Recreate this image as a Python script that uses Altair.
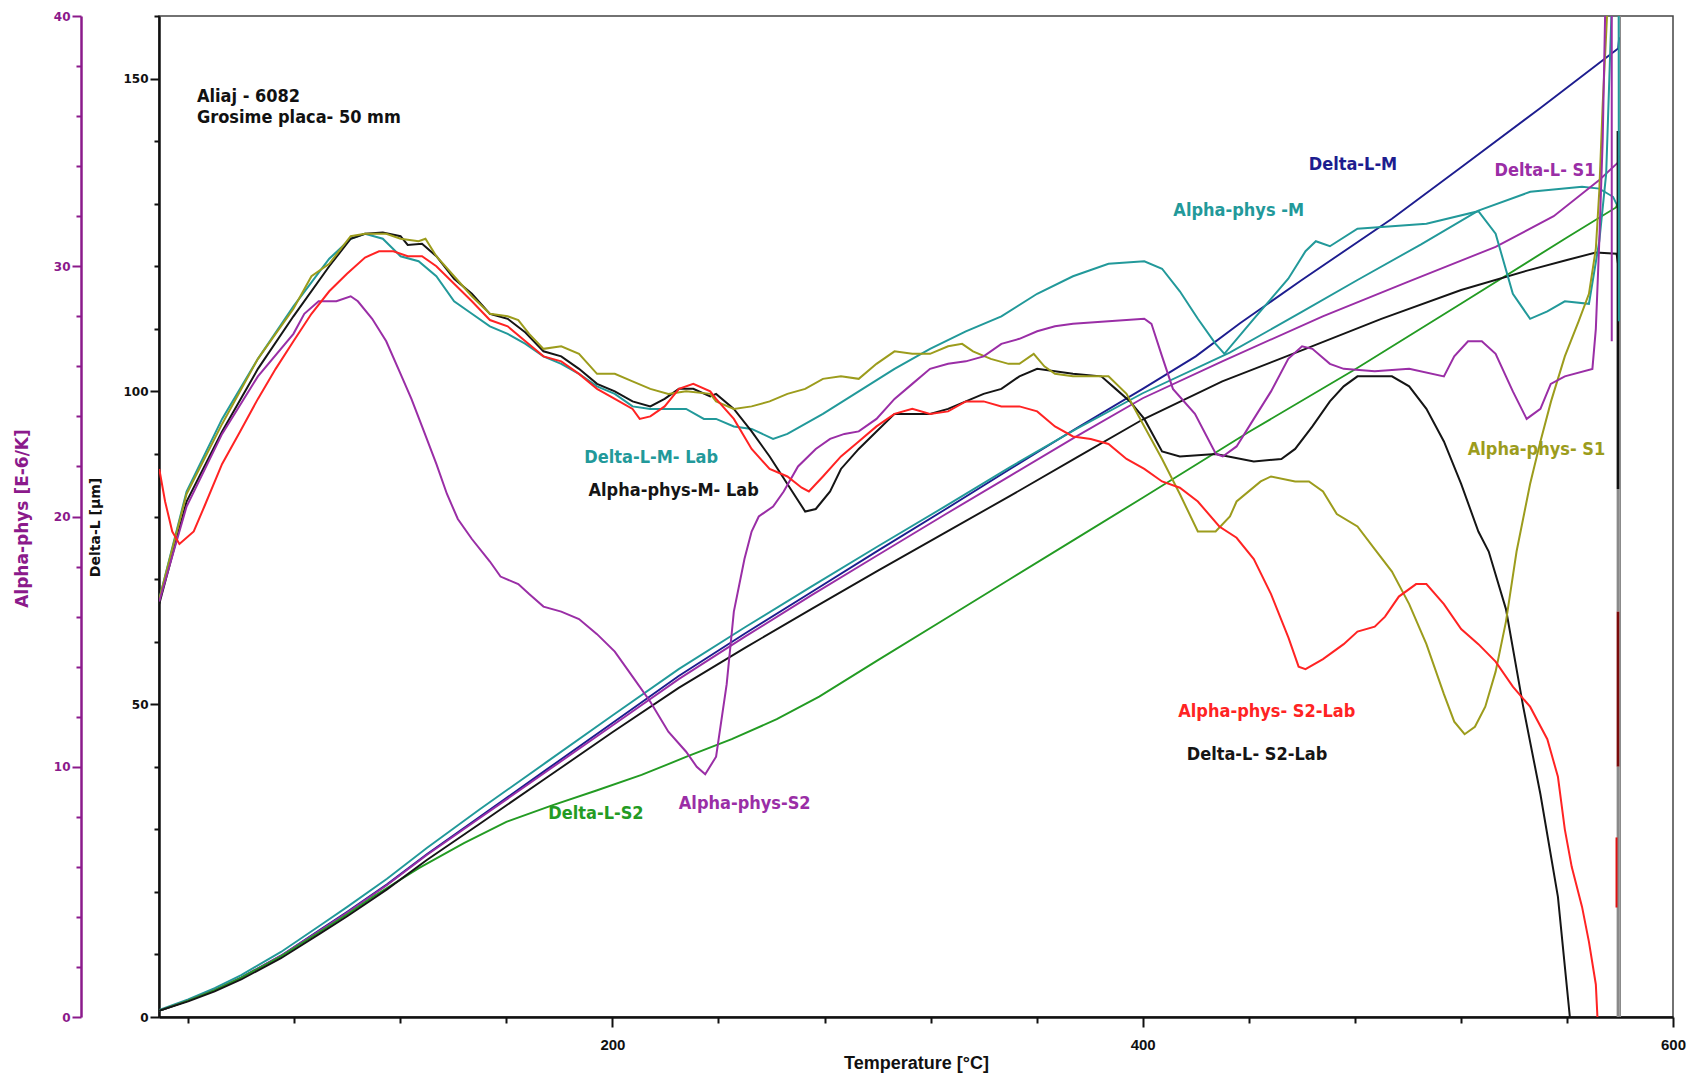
import altair as alt
import pandas as pd

# ---------------- Delta-L curves [µm] ----------------
T_BASE = [29, 40, 50, 60, 75, 90, 100, 115, 130, 150, 175, 200, 225, 250, 275, 300, 325, 350, 375, 400]

dl_m_T = T_BASE + [420, 436.7, 460, 494, 520, 550, 579.3, 579.7]
dl_m_D = [1.0, 2.6, 4.3, 6.3, 9.8, 14.0, 16.8, 21.2, 26.0, 32.0, 39.5, 47.0, 54.5, 61.3, 67.9, 74.5, 81.0, 87.6, 94.1, 100.4,
          105.6, 110.9, 117.8, 127.6, 135.8, 145.3, 154.8, 156.6]

dl_mlab_T = T_BASE + [432.8, 460, 481, 505, 526.6, 546.2, 565.7, 572.2, 577.4, 579.3]
dl_mlab_D = [1.1, 2.8, 4.6, 6.7, 10.4, 14.7, 17.6, 22.1, 27.0, 33.2, 40.7, 48.2, 55.6, 62.3, 68.8, 75.2, 81.5, 87.9, 94.0, 99.7,
             106.2, 112.7, 117.8, 123.5, 128.9, 131.9, 132.7, 132.4, 131.1, 129.4]

dl_s1_T = T_BASE + [430, 467.9, 500, 533.1, 555, 572.2, 579.3, 579.6]
dl_s1_D = [1.0, 2.6, 4.3, 6.3, 9.8, 13.9, 16.7, 21.1, 25.9, 31.8, 39.2, 46.6, 54.0, 60.8, 67.4, 73.8, 80.2, 86.5, 92.8, 98.9,
           104.8, 112.0, 117.5, 123.1, 128.0, 133.8, 136.6, 137.7]

dl_s2_T = [29, 40, 50, 60, 75, 90, 100, 110, 127, 144, 160, 177, 194, 211, 228, 245, 262, 278, 300, 325, 350, 375, 400,
           440, 480, 520, 560, 578.5, 579.6]
dl_s2_D = [1.0, 2.6, 4.3, 6.3, 9.7, 13.7, 16.4, 19.3, 23.8, 27.8, 31.2, 33.8, 36.2, 38.7, 41.6, 44.4, 47.6, 51.2, 57.0,
           63.5, 70.0, 76.5, 83.0, 93.5, 103.5, 114.0, 124.6, 129.4, 130.5]

dl_s2lab_T = T_BASE + [430, 461.4, 490, 520.1, 545, 560, 570.9, 578.7, 579.2]
dl_s2lab_D = [1.0, 2.5, 4.1, 6.0, 9.4, 13.4, 16.1, 20.4, 25.1, 30.9, 38.2, 45.5, 52.6, 59.0, 65.2, 71.3, 77.3, 83.3, 89.4, 95.5,
              101.6, 106.8, 111.6, 116.2, 119.3, 121.0, 122.2, 122.0, 120.5]

# ---------------- Alpha-phys curves [E-6/K] ----------------
ap_m_T = [29.1, 39.4, 52.8, 66.3, 79.7, 93.2, 101.3, 106.7, 113.4, 120.1, 126.9, 133.6, 140.3, 147.0, 153.8, 160.5,
          167.2, 174.0, 180.7, 187.4, 194.2, 200.9, 207.6, 214.3, 221.1, 227.8, 234.5, 239.1, 245.8, 252.5, 260.6,
          266.0, 279.4, 292.9, 306.4, 319.8, 333.3, 346.7, 360.2, 373.7, 387.1, 400.6, 407.3, 414.0, 420.8, 427.5,
          430.8, 441.9, 454.9, 461.4, 465.3, 470.6, 481.0, 494.0, 507.0, 526.6, 533.1, 539.6, 546.1, 552.6, 559.2,
          568.3, 572.2, 574.8, 576.8, 577.5, 579.5, 579.6]
ap_m_A = [16.7, 21.0, 23.9, 26.3, 28.4, 30.3, 31.1, 31.3, 31.1, 30.4, 30.2, 29.6, 28.6, 28.1, 27.6, 27.3,
          26.9, 26.4, 26.1, 25.7, 25.2, 24.9, 24.4, 24.3, 24.3, 24.3, 23.9, 23.9, 23.6, 23.5, 23.1,
          23.3, 24.1, 25.0, 25.9, 26.7, 27.4, 28.0, 28.9, 29.6, 30.1, 30.2, 29.9, 29.0, 27.9, 26.9,
          26.5, 27.9, 29.5, 30.6, 31.0, 30.8, 31.5, 31.6, 31.7, 32.2, 31.3, 28.9, 27.9, 28.2, 28.6,
          28.5, 31.0, 33.7, 40.1, 42.0, 42.0, 27.8]

ap_mlab_T = [29.1, 39.4, 52.8, 66.3, 79.7, 93.2, 101.3, 106.7, 113.4, 120.1, 122.8, 128.2, 133.6, 140.3, 147.0,
             153.8, 160.5, 167.2, 174.0, 180.7, 187.4, 194.2, 200.9, 207.6, 214.3, 219.7, 225.1, 230.5, 236.9,
             239.1, 245.8, 252.5, 259.3, 266.0, 272.7, 276.7, 282.1, 286.2, 292.9, 299.6, 306.4, 319.8, 326.6,
             333.3, 340.0, 346.7, 353.5, 360.2, 373.7, 384.4, 389.8, 395.2, 400.6, 407.3, 414.0, 427.5, 441.9,
             452.3, 457.5, 464.0, 470.6, 475.8, 481.0, 494.0, 500.5, 507.0, 513.6, 520.1, 526.6, 530.5, 537.0,
             543.5, 550.0, 556.6, 561.1]
ap_mlab_A = [16.5, 20.6, 23.4, 25.9, 28.0, 30.0, 31.1, 31.3, 31.35, 31.2, 30.85, 30.9, 30.4, 29.5, 28.9,
             28.1, 27.9, 27.35, 26.6, 26.4, 25.9, 25.3, 25.0, 24.6, 24.4, 24.7, 25.1, 25.1, 24.8,
             24.9, 24.3, 23.4, 22.4, 21.3, 20.2, 20.3, 21.0, 21.9, 22.7, 23.4, 24.1, 24.1, 24.3,
             24.6, 24.9, 25.1, 25.6, 25.9, 25.7, 25.6, 25.1, 24.6, 23.9, 22.6, 22.4, 22.5, 22.2,
             22.3, 22.7, 23.6, 24.6, 25.2, 25.6, 25.6, 25.2, 24.3, 23.0, 21.3, 19.4, 18.6, 16.3,
             12.4, 8.9, 4.8, 0.0]

ap_s1_T = [29.1, 39.4, 52.8, 66.3, 79.7, 86.5, 93.2, 101.3, 106.7, 114.7, 120.1, 126.9, 129.5, 133.6, 140.3,
           147.0, 153.8, 160.5, 164.5, 168.6, 174.0, 180.7, 187.4, 194.2, 200.9, 207.6, 214.3, 221.1, 227.8,
           236.9, 239.1, 245.8, 252.5, 259.3, 266.0, 272.7, 279.4, 286.2, 292.9, 299.6, 306.4, 313.1, 319.8,
           326.6, 331.9, 336.0, 342.7, 349.4, 353.5, 358.9, 362.9, 366.9, 373.7, 387.1, 393.9, 400.6, 407.3,
           414.0, 420.8, 427.5, 432.9, 435.4, 444.5, 448.4, 457.5, 462.7, 468.0, 473.2, 481.0, 487.5, 494.0,
           500.5, 507.0, 513.6, 517.5, 521.4, 525.3, 529.2, 533.1, 537.0, 541.0, 546.1, 550.0, 554.0, 559.2,
           564.4, 568.3, 570.9, 572.2, 573.5, 574.8, 576.0]
ap_s1_A = [16.7, 20.9, 23.7, 26.3, 28.3, 29.6, 30.1, 31.2, 31.3, 31.3, 31.1, 31.0, 31.1, 30.4, 29.6,
           28.8, 28.1, 28.0, 27.85, 27.3, 26.7, 26.8, 26.5, 25.7, 25.7, 25.4, 25.1, 24.9, 25.0,
           24.9, 24.6, 24.3, 24.4, 24.6, 24.9, 25.1, 25.5, 25.6, 25.5, 26.1, 26.6, 26.5, 26.5,
           26.8, 26.9, 26.6, 26.3, 26.1, 26.1, 26.5, 26.0, 25.7, 25.6, 25.6, 24.9, 23.6, 22.3,
           20.9, 19.4, 19.4, 20.0, 20.6, 21.4, 21.6, 21.4, 21.4, 21.0, 20.1, 19.6, 18.7, 17.8,
           16.5, 14.9, 12.9, 11.8, 11.3, 11.6, 12.4, 13.8, 15.8, 18.6, 21.3, 23.0, 24.6, 26.4,
           27.8, 28.9, 30.7, 33.0, 36.5, 39.3, 42.0]

ap_s2_T = [29.1, 39.4, 52.8, 66.3, 79.7, 83.8, 89.2, 95.9, 101.3, 104.0, 109.4, 114.7, 120.1, 124.2, 128.2,
           133.6, 137.6, 141.7, 147.0, 153.8, 157.8, 164.5, 168.6, 174.0, 180.7, 187.4, 194.2, 200.9, 207.6,
           214.3, 221.1, 227.8, 231.8, 235.0, 239.1, 243.1, 245.8, 249.8, 252.5, 255.2, 260.6, 264.6, 270.0,
           276.7, 282.1, 287.5, 292.9, 299.6, 306.4, 313.1, 319.8, 326.6, 333.3, 340.0, 346.7, 353.5, 360.2,
           366.9, 373.7, 387.1, 400.6, 403.3, 407.3, 411.4, 419.7, 427.6, 430.2, 435.4, 441.9, 448.4, 454.9,
           460.1, 464.0, 470.6, 475.8, 487.5, 500.5, 513.6, 517.5, 522.7, 527.9, 533.1, 539.6, 544.8, 550.0,
           553.9, 559.2, 569.6, 570.9, 572.2, 573.5, 574.5, 575.0, 576.9, 576.9]
ap_s2_A = [16.6, 20.4, 23.3, 25.6, 27.3, 28.1, 28.6, 28.6, 28.8, 28.6, 27.9, 27.0, 25.7, 24.7, 23.6,
           22.1, 20.9, 19.9, 19.1, 18.2, 17.6, 17.3, 16.9, 16.4, 16.2, 15.9, 15.3, 14.6, 13.6,
           12.6, 11.4, 10.6, 10.0, 9.7, 10.4, 13.3, 16.2, 18.3, 19.4, 20.0, 20.4, 21.0, 22.0,
           22.7, 23.1, 23.3, 23.4, 23.9, 24.7, 25.3, 25.9, 26.1, 26.2, 26.4, 26.9, 27.1, 27.4,
           27.6, 27.7, 27.8, 27.9, 27.7, 26.4, 25.1, 24.1, 22.5, 22.4, 22.8, 23.9, 25.0, 26.3,
           26.8, 26.7, 26.1, 25.9, 25.8, 25.9, 25.6, 26.4, 27.0, 27.0, 26.5, 25.0, 23.9, 24.3,
           25.3, 25.6, 25.9, 27.5, 31.0, 35.1, 40.6, 42.0, 42.0, 27.0]

ap_s2lab_T = [29.1, 31.3, 34.0, 36.7, 42.1, 46.1, 52.8, 59.6, 66.3, 73.0, 79.7, 86.5, 93.2, 99.9, 106.7,
              112.0, 117.4, 122.8, 128.2, 133.6, 140.3, 147.0, 153.8, 160.5, 167.2, 174.0, 180.7, 187.4,
              194.2, 200.9, 207.6, 210.3, 214.3, 219.7, 225.1, 230.5, 236.9, 239.1, 245.8, 252.5, 259.3,
              266.0, 271.4, 274.1, 279.4, 286.2, 292.9, 299.6, 306.4, 313.1, 319.8, 326.6, 333.3, 340.0,
              346.7, 353.5, 360.2, 366.9, 373.7, 380.4, 387.1, 393.9, 400.6, 407.3, 414.0, 420.8, 428.9,
              435.4, 441.9, 448.4, 455.0, 458.8, 461.4, 468.0, 475.8, 481.0, 487.5, 491.4, 496.6, 503.1,
              507.0, 513.6, 520.1, 526.6, 533.1, 539.6, 546.1, 552.6, 556.6, 559.2, 561.8, 565.7, 568.3,
              570.9, 571.5]
ap_s2lab_A = [21.9, 20.6, 19.4, 18.9, 19.4, 20.4, 22.1, 23.4, 24.7, 25.9, 27.0, 28.1, 29.0, 29.7, 30.35,
              30.6, 30.6, 30.4, 30.4, 30.0, 29.3, 28.6, 27.85, 27.6, 27.0, 26.4, 26.2, 25.7,
              25.1, 24.7, 24.3, 23.9, 24.0, 24.4, 25.1, 25.3, 25.0, 24.7, 23.9, 22.7, 21.9,
              21.6, 21.15, 21.0, 21.6, 22.4, 23.0, 23.6, 24.1, 24.3, 24.1, 24.2, 24.6, 24.6,
              24.4, 24.4, 24.2, 23.6, 23.2, 23.1, 22.9, 22.3, 21.9, 21.4, 21.15, 20.6, 19.6,
              19.15, 18.3, 16.9, 15.15, 14.0, 13.9, 14.3, 14.9, 15.4, 15.6, 16.0, 16.8, 17.3,
              17.3, 16.5, 15.5, 14.9, 14.2, 13.2, 12.4, 11.1, 9.6, 7.5, 6.0, 4.4, 3.0,
              1.3, 0.0]

# vertical end-of-run traces at the maximum temperature (Delta-L units)
end_T = [579.3, 579.3, 579.3, 579.3, 578.7, 580.1]
end_top = [141.6, 84.4, 64.8, 40.0, 28.7, 160.0]
end_bottom = [84.4, 64.8, 40.0, 0.0, 17.5, 0.0]
end_kind = ["black", "grey", "darkred", "grey", "red", "thin"]

# in-plot curve captions (Temperature, Delta-L position)
label_names = ["Delta-L-M", "Delta-L- S1", "Alpha-phys -M", "Delta-L-M- Lab", "Alpha-phys-M- Lab",
               "Alpha-phys- S1", "Alpha-phys- S2-Lab", "Delta-L- S2-Lab", "Delta-L-S2", "Alpha-phys-S2"]
label_T = [479.3, 551.7, 436.2, 214.6, 223.1, 548.5, 446.8, 443.1, 193.8, 249.9]
label_D = [136.2, 135.3, 128.8, 89.3, 84.1, 90.7, 48.8, 41.9, 32.4, 34.1]

note_lines = ["Aliaj - 6082", "Grosime placa- 50 mm"]
note_T = [43.3, 43.3]
note_D = [146.2, 142.9]

# ---------------- styling ----------------
SERIES_COLORS = {
    "Delta-L-M": "#1d1d8f",
    "Delta-L-M- Lab": "#22999a",
    "Delta-L- S1": "#9a2ea6",
    "Delta-L-S2": "#239b23",
    "Delta-L- S2-Lab": "#151515",
    "Alpha-phys -M": "#22999a",
    "Alpha-phys-M- Lab": "#151515",
    "Alpha-phys- S1": "#9c9c1c",
    "Alpha-phys-S2": "#9a2ea6",
    "Alpha-phys- S2-Lab": "#ff2323",
}
END_STYLE = {
    "black": ("#101010", 3.0),
    "grey": ("#8a8a8a", 3.0),
    "darkred": ("#7a0a0a", 3.0),
    "red": ("#e01010", 2.0),
    "thin": ("#8a8a8a", 1.5),
}
PURPLE = "#8b1a8b"
TXT_FONT = "DejaVu Sans Condensed, DejaVu Sans"


def curve(name, ts, vs, col):
    return pd.DataFrame({"T": ts, col: vs, "series": name, "i": list(range(len(ts)))})


delta_df = pd.concat([
    curve("Delta-L-M", dl_m_T, dl_m_D, "D"),
    curve("Delta-L-M- Lab", dl_mlab_T, dl_mlab_D, "D"),
    curve("Delta-L- S1", dl_s1_T, dl_s1_D, "D"),
    curve("Delta-L-S2", dl_s2_T, dl_s2_D, "D"),
    curve("Delta-L- S2-Lab", dl_s2lab_T, dl_s2lab_D, "D"),
], ignore_index=True)

alpha_df = pd.concat([
    curve("Alpha-phys -M", ap_m_T, ap_m_A, "A"),
    curve("Alpha-phys-M- Lab", ap_mlab_T, ap_mlab_A, "A"),
    curve("Alpha-phys- S1", ap_s1_T, ap_s1_A, "A"),
    curve("Alpha-phys-S2", ap_s2_T, ap_s2_A, "A"),
    curve("Alpha-phys- S2-Lab", ap_s2lab_T, ap_s2lab_A, "A"),
], ignore_index=True)

end_df = pd.DataFrame({
    "T": end_T, "D": end_top, "D2": end_bottom,
    "col": [END_STYLE[k][0] for k in end_kind],
    "w": [END_STYLE[k][1] for k in end_kind],
})

label_df = pd.DataFrame({"T": label_T, "D": label_D, "series": label_names})
note_df = pd.DataFrame({"T": note_T, "D": note_D, "txt": note_lines})

color_scale = alt.Scale(domain=list(SERIES_COLORS.keys()), range=list(SERIES_COLORS.values()))

x_enc = alt.X(
    "T:Q",
    scale=alt.Scale(domain=[29, 600], nice=False, zero=False),
    axis=alt.Axis(
        values=list(range(40, 601, 40)),
        labelExpr="datum.value % 200 === 0 ? datum.label : ''",
        title="Temperature [°C]",
        titleFont="Liberation Sans", titleFontSize=18, titleFontWeight="bold", titleColor="#111",
        titleX=757, titleY=46, titleBaseline="middle", titleAlign="center",
        labelFont="Liberation Sans", labelFontSize=15, labelFontWeight="bold", labelColor="#111",
        labelPadding=10, labelFlush=False, labelOverlap=False,
        domainColor="#111", domainWidth=2.5,
        tickColor="#111", tickWidth=2,
        tickSize={"condition": {"test": "datum.value % 200 === 0", "value": 10}, "value": 6},
        grid=False,
    ),
)

y_delta = alt.Y(
    "D:Q",
    scale=alt.Scale(domain=[0, 160], nice=False, zero=True),
    axis=alt.Axis(
        orient="left", offset=0,
        values=list(range(0, 161, 10)),
        labelExpr="datum.value % 50 === 0 ? datum.label : ''",
        title="Delta-L  [µm]",
        titleFont="DejaVu Sans", titleFontSize=14, titleFontWeight="bold", titleColor="#111",
        titleX=-64, titleY=511, titleAngle=270, titleAlign="center", titleBaseline="middle",
        labelFont="DejaVu Sans", labelFontSize=12, labelFontWeight="bold", labelColor="#111",
        labelPadding=2, labelOverlap=False,
        domainColor="#111", domainWidth=2.5,
        tickColor="#111", tickWidth=2,
        tickSize={"condition": {"test": "datum.value % 50 === 0", "value": 9}, "value": 5},
        grid=False,
    ),
)

y_alpha = alt.Y(
    "A:Q",
    scale=alt.Scale(domain=[0, 40], nice=False, zero=True),
    axis=alt.Axis(
        orient="left", offset=78,
        values=list(range(0, 41, 2)),
        labelExpr="datum.value % 10 === 0 ? datum.label : ''",
        title="Alpha-phys [E-6/K]",
        titleFont="DejaVu Sans", titleFontSize=17, titleFontWeight="bold", titleColor=PURPLE,
        titleX=-59, titleY=502, titleAngle=270, titleAlign="center", titleBaseline="middle",
        labelFont="DejaVu Sans", labelFontSize=12, labelFontWeight="bold", labelColor=PURPLE,
        labelPadding=2, labelOverlap=False,
        domainColor=PURPLE, domainWidth=2.5,
        tickColor=PURPLE, tickWidth=2,
        tickSize={"condition": {"test": "datum.value % 10 === 0", "value": 9}, "value": 5},
        grid=False,
    ),
)

delta_lines = alt.Chart(delta_df).mark_line(strokeWidth=1.9, clip=True).encode(
    x=x_enc, y=y_delta,
    color=alt.Color("series:N", scale=color_scale, legend=None),
    detail="series:N",
    order=alt.Order("i:Q"),
)

end_rules = alt.Chart(end_df).mark_rule(clip=True).encode(
    x=x_enc, y=y_delta, y2="D2:Q",
    stroke=alt.Stroke("col:N", scale=None),
    strokeWidth=alt.StrokeWidth("w:Q", scale=None),
)

captions = alt.Chart(label_df).mark_text(
    font=TXT_FONT, fontSize=18, fontWeight="bold", align="center", baseline="middle"
).encode(
    x=x_enc, y=y_delta,
    color=alt.Color("series:N", scale=color_scale, legend=None),
    text="series:N",
)

notes = alt.Chart(note_df).mark_text(
    font=TXT_FONT, fontSize=18, fontWeight="bold", align="left", baseline="alphabetic", color="#111"
).encode(x=x_enc, y=y_delta, text="txt:N")

alpha_lines = alt.Chart(alpha_df).mark_line(strokeWidth=2.0, clip=True).encode(
    x=x_enc, y=y_alpha,
    color=alt.Color("series:N", scale=color_scale, legend=None),
    detail="series:N",
    order=alt.Order("i:Q"),
)

delta_group = alt.layer(delta_lines, end_rules, captions, notes)

chart = alt.layer(delta_group, alpha_lines).resolve_scale(y="independent").properties(
    width=1514,
    height=1001,
    autosize=alt.AutoSizeParams(type="none"),
    padding={"left": 159, "top": 16, "right": 19, "bottom": 60},
    background="white",
).configure_view(
    stroke="#444", strokeWidth=1.5
).configure_axis(grid=False)

chart.save("out.html", embed_options={"renderer": "svg", "actions": False})
